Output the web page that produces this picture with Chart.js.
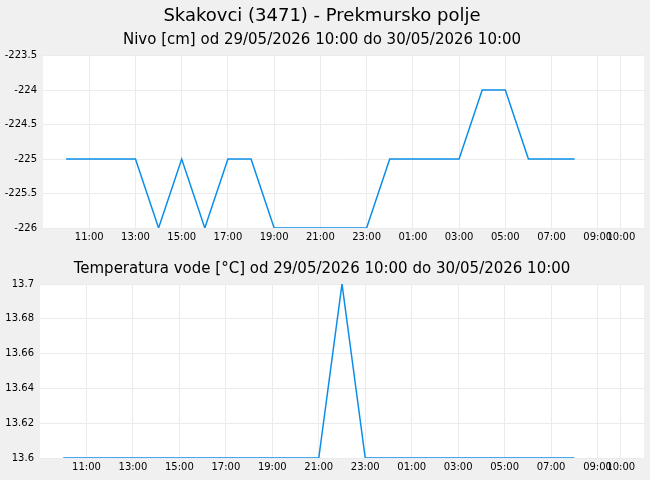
<!DOCTYPE html><html><head><meta charset="utf-8">
<script src="https://cdn.jsdelivr.net/npm/chart.js@4"></script>
<style>html,body{margin:0;padding:0;background:#f0f0f0;font-family:"DejaVu Sans";}
.c{position:absolute;left:0;width:650px;}</style></head><body>
<div class="c" style="top:0;height:250px"><canvas id="a"></canvas></div>
<div class="c" style="top:250px;height:230px"><canvas id="b"></canvas></div>
<script>
// hours since 29/05/2026 00:00
const hours = [10,11,12,13,14,15,16,17,18,19,20,21,22,23,24,25,26,27,28,29,30,31,32];
const nivo = [-225,-225,-225,-225,-226,-225,-226,-225,-225,-226,-226,-226,-226,-226,-225,-225,-225,-225,-224,-224,-225,-225,-225];
const temp = [13.6,13.6,13.6,13.6,13.6,13.6,13.6,13.6,13.6,13.6,13.6,13.6,13.7,13.6,13.6,13.6,13.6,13.6,13.6,13.6,13.6,13.6,13.6];
const xTicks = [11,13,15,17,19,21,23,25,27,29,31,33,34];
const F = "DejaVu Sans";
const bg = {id:'bg',beforeDraw(c){const a=c.chartArea,x=c.ctx;x.save();x.fillStyle='#fff';x.fillRect(a.left,a.top,a.right-a.left,a.bottom-a.top);x.restore();}};
function fmt(v){const h=((v%24)+24)%24;return String(h).padStart(2,'0')+':00';}
function make(id,vals,ymin,ymax,step,titles,yw,pad){
  const plugins={legend:{display:false},tooltip:{enabled:false},
    title:{display:true,text:titles[0],color:'#000',font:{family:F,size:titles[1],weight:'normal'},padding:{top:titles[2],bottom:titles[3]}}};
  if(titles[4]) plugins.subtitle={display:true,text:titles[4],color:'#000',font:{family:F,size:15},padding:{bottom:6}};
  new Chart(document.getElementById(id),{type:'line',
    data:{datasets:[{data:hours.map((h,i)=>({x:h,y:vals[i]})),borderColor:'#0a8ee8',borderWidth:1.5,pointRadius:0,tension:0}]},
    options:{responsive:true,maintainAspectRatio:false,animation:false,
      layout:{padding:{left:0,right:6,bottom:pad}},
      plugins,
      scales:{
        x:{type:'linear',min:9,max:35,afterBuildTicks(s){s.ticks=xTicks.map(v=>({value:v}));},
          ticks:{color:'#000',font:{family:F,size:10},maxRotation:0,autoSkip:false,callback:v=>fmt(v)},
          grid:{color:'#ebebeb',drawTicks:false},border:{display:false}},
        y:{min:ymin,max:ymax,afterFit(s){s.width=yw;},
          ticks:{stepSize:step,color:'#000',font:{family:F,size:10},padding:6,callback:v=>String(+v.toFixed(2))},
          grid:{color:'#ebebeb',drawTicks:false},border:{display:false}}}},
    plugins:[bg]});
}
make('a',nivo,-226,-223.5,0.5,['Skakovci (3471) - Prekmursko polje',18,6,4,'Nivo [cm] od 29/05/2026 10:00 do 30/05/2026 10:00'],43,4);
make('b',temp,13.6,13.7,0.02,['Temperatura vode [°C] od 29/05/2026 10:00 do 30/05/2026 10:00',15,10,6],40,4);
</script></body></html>
